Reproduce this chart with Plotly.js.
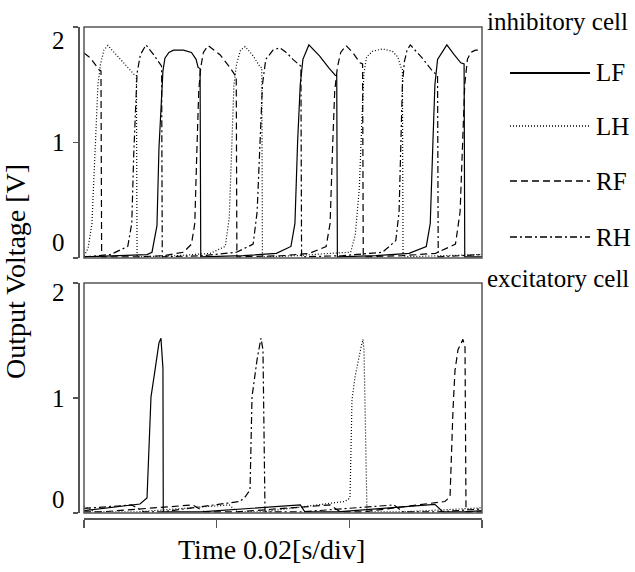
<!DOCTYPE html>
<html><head><meta charset="utf-8">
<script src="https://cdn.plot.ly/plotly-3.0.1.min.js"></script>
<style>html,body{margin:0;padding:0;background:#fff}#chart{width:635px;height:572px}</style>
</head><body><div id="chart"></div>
<script>
// ---------- DATA (time in ms, 0.02 s per division; voltage in V) ----------
const seriesNames = ['LF', 'LH', 'RF', 'RH'];
const xTickVals = [0, 20, 40, 60];
const yTickVals = [0, 1, 2];
const yTickLabels = ['0', '1', '2'];

// inhibitory cells (top panel)
const tInhLF = [0,5,9.5,10.25,11.0,11.3,11.6,11.9,12.2,12.8,13.5,15.0,16.2,16.9,17.2,17.5,17.6,24,29,31.2,31.8,32.2,32.6,33.0,33.9,35.5,37.0,37.9,38.1,38.2,44,49,51.6,52.2,52.6,52.9,53.3,54.7,55.8,56.8,57.3,57.4,60];
const vInhLF = [0.01,0.02,0.03,0.05,0.28,0.95,1.35,1.62,1.73,1.78,1.80,1.80,1.78,1.72,1.65,1.64,0.01,0.02,0.04,0.1,0.3,1.0,1.5,1.72,1.845,1.75,1.64,1.58,1.58,0.01,0.02,0.04,0.1,0.3,1.0,1.5,1.72,1.845,1.76,1.69,1.68,0.01,0.01];

const tInhLH = [0,0.6,1.2,1.7,2.1,2.5,3.0,3.6,5.0,6.5,7.7,7.9,8.0,14,19,21.3,21.9,22.3,22.6,23.0,23.6,24.3,25.5,26.6,26.8,26.9,32,37,40.2,40.9,41.5,41.9,42.2,42.6,43.5,45.0,46.5,47.3,47.8,48.0,48.1,54,60];
const vInhLH = [0.02,0.08,0.3,1.0,1.5,1.68,1.8,1.84,1.75,1.65,1.58,1.58,0.01,0.02,0.04,0.1,0.35,1.0,1.5,1.68,1.8,1.83,1.75,1.65,1.65,0.01,0.02,0.04,0.05,0.2,0.6,1.2,1.6,1.74,1.79,1.81,1.79,1.74,1.65,1.64,0.01,0.02,0.03];

const tInhRF = [0,1.0,2.26,2.56,2.66,8,12,15,16.2,16.7,17.0,17.3,17.6,18.0,18.7,20.5,22.0,22.8,22.95,23.05,30,34,36.5,37.1,37.5,37.8,38.2,38.7,39.5,40.5,41.6,42.0,42.1,48,53,56.0,56.7,57.1,57.4,57.8,58.3,59,60];
const vInhRF = [1.775,1.73,1.63,1.62,0.01,0.01,0.02,0.05,0.12,0.3,0.9,1.45,1.65,1.78,1.84,1.76,1.65,1.58,1.58,0.01,0.02,0.04,0.1,0.3,1.0,1.45,1.65,1.78,1.84,1.78,1.69,1.68,0.01,0.02,0.04,0.12,0.4,1.0,1.5,1.72,1.78,1.8,1.8];

const tInhRH = [0,4,6.6,7.2,7.5,7.8,8.0,8.5,9.35,10.5,11.5,11.7,11.8,18,23,25.5,26.1,26.5,26.9,27.4,28.5,29.5,30.5,31.5,32.4,32.7,32.8,39,45,47.0,47.5,47.8,48.0,48.3,48.7,49.2,51.0,52.5,53.2,53.3,53.4,58,60];
const vInhRH = [0.01,0.03,0.1,0.3,0.9,1.4,1.6,1.76,1.845,1.76,1.67,1.66,0.01,0.02,0.05,0.12,0.4,1.0,1.5,1.72,1.8,1.82,1.78,1.72,1.67,1.66,0.01,0.02,0.05,0.15,0.4,1.0,1.5,1.7,1.8,1.845,1.73,1.62,1.58,1.58,0.01,0.02,0.03];

// excitatory cells (bottom panel)
const tExcLF = [0,8.44,9.5,9.8,10.1,10.7,11.3,11.6,11.9,11.95,17.6,32.6,33.3,38.2,52.9,54.1,57.4,60];
const vExcLF = [0.02,0.078,0.13,0.55,1.01,1.24,1.48,1.52,1.26,0.01,0.01,0.07,0.01,0.01,0.075,0.01,0.01,0.02];

const tExcLH = [0,1.5,8.0,21.9,23.1,26.9,39.3,40.1,40.4,40.85,41.76,42.06,42.21,42.66,48.1,60];
const vExcLH = [0.06,0.01,0.01,0.07,0.01,0.01,0.1,0.13,0.98,1.18,1.44,1.51,1.42,0.01,0.01,0.045];

const tExcRF = [0,2.66,16.4,18.2,23.05,37.1,38.6,42.1,54.4,55.18,55.63,55.93,56.38,57.13,57.44,57.59,60];
const vExcRF = [0.01,0.01,0.07,0.01,0.01,0.07,0.01,0.01,0.1,0.14,0.9,1.24,1.42,1.51,1.44,0.01,0.01];

const tExcRH = [0,7.2,9.0,11.8,23.5,24.27,25.03,25.18,25.33,26.08,26.68,26.98,27.29,32.8,46.7,48.1,53.4,60];
const vExcRH = [0.04,0.07,0.01,0.01,0.1,0.139,0.2,0.55,1.01,1.33,1.52,1.42,0.01,0.01,0.07,0.01,0.01,0.035];

// ---------- STYLE / LAYOUT ----------
const W = 635, H = 572;
const px = x => x / W;
const py = y => 1 - y / H;
const FONT = 'Liberation Serif, Times New Roman, serif';
const FS = 25;      // tick labels, legend, panel labels
const FST = 28;     // axis titles
const FRAME = '#555555';
const dashes = {LF: 'solid', LH: '1px,2px', RF: '7px,4px', RH: '7px,3px,2px,3px'};

const inh = {LF: [tInhLF, vInhLF], LH: [tInhLH, vInhLH], RF: [tInhRF, vInhRF], RH: [tInhRH, vInhRH]};
const exc = {LF: [tExcLF, vExcLF], LH: [tExcLH, vExcLH], RF: [tExcRF, vExcRF], RH: [tExcRH, vExcRH]};

const traces = [];
seriesNames.forEach(n => {
  traces.push({x: inh[n][0], y: inh[n][1], xaxis: 'x', yaxis: 'y2', mode: 'lines', name: n,
    line: {color: '#000', width: 1.2, dash: dashes[n]}, showlegend: false, hoverinfo: 'skip'});
});
seriesNames.forEach(n => {
  traces.push({x: exc[n][0], y: exc[n][1], xaxis: 'x', yaxis: 'y', mode: 'lines', name: n,
    line: {color: '#000', width: 1.2, dash: dashes[n]}, showlegend: false, hoverinfo: 'skip'});
});

const xDom = [px(84), px(482)];
const yAxisCommon = {
  range: [0, 2], tickvals: yTickVals, showticklabels: false, ticks: 'outside', ticklen: 5,
  tickcolor: FRAME, tickwidth: 1.5, showline: true, linecolor: FRAME, linewidth: 1.5,
  showgrid: false, zeroline: false, anchor: 'free', position: px(78), fixedrange: true
};

const annotations = [];
// y tick labels (drawn slightly inside the range ends, as in the original)
const labelPosTop = [0.13, 1, 1.88];
const labelPosBottom = [0.12, 1, 1.92];
[['y2', labelPosTop], ['y', labelPosBottom]].forEach(([ax, pos]) => {
  yTickLabels.forEach((lab, i) => {
    annotations.push({xref: 'paper', yref: ax, x: px(67), y: pos[i], text: lab, showarrow: false,
      xanchor: 'right', yanchor: 'middle', font: {family: FONT, size: FS, color: '#000'}});
  });
});
annotations.push({xref: 'paper', yref: 'paper', x: px(15), y: py(272), text: 'Output Voltage [V]', textangle: -90,
  showarrow: false, xanchor: 'center', yanchor: 'middle', font: {family: FONT, size: FST, color: '#000'}});
annotations.push({xref: 'paper', yref: 'paper', x: px(271), y: py(549), text: 'Time 0.02[s/div]',
  showarrow: false, xanchor: 'center', yanchor: 'middle', font: {family: FONT, size: FST, color: '#000'}});
annotations.push({xref: 'paper', yref: 'paper', x: px(485), y: py(22), text: 'inhibitory cell', showarrow: false,
  xanchor: 'left', yanchor: 'middle', font: {family: FONT, size: FS, color: '#000'}});
annotations.push({xref: 'paper', yref: 'paper', x: px(485), y: py(279), text: 'excitatory cell', showarrow: false,
  xanchor: 'left', yanchor: 'middle', font: {family: FONT, size: FS, color: '#000'}});

const shapes = [
  {type: 'rect', xref: 'x domain', yref: 'y domain', x0: 0, x1: 1, y0: 0, y1: 1, line: {color: FRAME, width: 1.5}},
  {type: 'rect', xref: 'x domain', yref: 'y2 domain', x0: 0, x1: 1, y0: 0, y1: 1, line: {color: FRAME, width: 1.5}}
];
// legend
const legendY = [73, 126, 181, 237];
seriesNames.forEach((n, i) => {
  shapes.push({type: 'line', xref: 'paper', yref: 'paper', x0: px(510), x1: px(590), y0: py(legendY[i]), y1: py(legendY[i]),
    line: {color: '#000', width: n === 'LF' ? 1.8 : 1.3, dash: dashes[n]}});
  annotations.push({xref: 'paper', yref: 'paper', x: px(594), y: py(legendY[i]), text: n, showarrow: false,
    xanchor: 'left', yanchor: 'middle', font: {family: FONT, size: FS, color: '#000'}});
});

const layout = {
  width: W, height: H, margin: {l: 0, r: 0, t: 0, b: 0},
  paper_bgcolor: '#fff', plot_bgcolor: '#fff', showlegend: false,
  font: {family: FONT, size: FS, color: '#000'},
  xaxis: {domain: xDom, range: [0, 60], tickvals: xTickVals, showticklabels: false, ticks: 'outside', ticklen: 8,
    tickcolor: FRAME, tickwidth: 1.5, showline: true, linecolor: FRAME, linewidth: 1.5, showgrid: false, zeroline: false,
    anchor: 'free', position: py(518), fixedrange: true},
  yaxis: Object.assign({}, yAxisCommon, {domain: [py(513), py(283)]}),
  yaxis2: Object.assign({}, yAxisCommon, {domain: [py(258), py(27)]}),
  annotations: annotations,
  shapes: shapes
};

Plotly.newPlot('chart', traces, layout, {staticPlot: true, displayModeBar: false});
</script>
</body></html>
